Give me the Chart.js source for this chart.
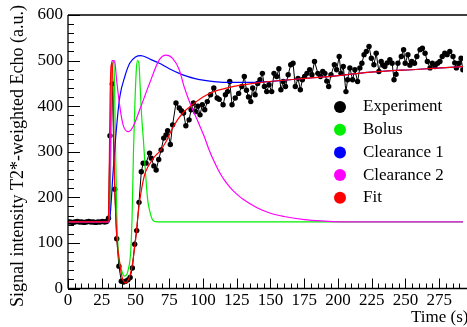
<!DOCTYPE html>
<html>
<head>
<meta charset="utf-8">
<script src="https://cdn.jsdelivr.net/npm/chart.js@4"></script>
<style>
  html, body { margin: 0; padding: 0; background: #fff; overflow: hidden; }
  #wrap { position: relative; width: 467px; height: 327px; }
</style>
</head>
<body>
<div id="wrap"><canvas id="myChart" width="467" height="327"></canvas></div>
<script>
// measured signal (time in s, signal in a.u.)
const expTime = [0, 1.7, 3.4, 5.1, 6.8, 8.5, 10.2, 11.9, 13.6, 15.3, 17, 18.7, 20.4, 22.1, 23.8, 25.5, 27.2, 28.6, 30.0,
  31.1, 32.8, 34.6, 36.1, 37.7, 39.5, 41.1, 42.7, 44.4, 46.0, 47.7, 49.4, 50.9, 52.6, 54.3, 55.7, 57.8, 60.4, 61.7, 63.6,
  65.3, 67.2, 69.0, 70.9, 72.6, 73.8, 75.8, 77.5, 80.0, 82.4, 84.0, 85.6, 87.3, 89.7, 91.2, 92.9, 94.6, 96.2, 97.8, 99.5,
  101.3, 103.2, 105.6, 108.0, 110.5, 112.0, 114.9, 116.6, 118.2, 119.8, 121.5, 123.9, 126.4, 128.8, 130.6, 132.2, 133.7,
  135.4, 136.8, 138.6, 140.5, 142.2, 144.0, 145.5, 147.2, 148.9, 150.9, 152.6, 154.6, 156.2, 157.7, 159.4, 161.1, 163.1,
  165.0, 166.7, 168.4, 170.4, 172.1, 173.6, 175.3, 177.0, 179.0, 180.7, 182.6, 185.1, 187.0, 188.7, 190.3, 191.7, 193.1,
  194.8, 197.3, 199.0, 200.9, 202.2, 203.9, 205.9, 207.1, 208.8, 210.8, 212.5, 214.5, 216.2, 217.7, 219.3, 221.0, 223.0,
  224.7, 226.6, 228.3, 230.3, 232.0, 233.5, 234.7, 236.5, 238.4, 240.1, 241.5, 243.0, 244.4, 246.9, 248.6, 249.8, 251.8,
  253.3, 254.7, 256.7, 258.4, 260.8, 262.5, 264.5, 266.2, 268.2, 269.9, 271.8, 273.8, 275.5, 277.2, 279.1, 280.8, 282.8,
  285.2, 286.5, 287.7, 289.7, 291.2, 292.5];
const expSignal = [146, 146, 145, 146, 147, 146, 146, 145, 146, 147, 146, 146, 145, 146, 146, 147, 146, 147, 154,
  335, 449, 218, 109, 49, 16, 14, 16, 19, 24, 45, 97, 127, 189, 256, 275, 275, 297, 286, 269,
  260, 283, 304, 330, 337, 346, 316, 359, 407, 396, 390, 385, 357, 370, 392, 407, 388, 400, 381, 403,
  392, 410, 425, 440, 418, 415, 403, 425, 432, 454, 403, 418, 428, 443, 465, 435, 420,
  410, 440, 425, 450, 458, 472, 443, 432, 447, 432, 472, 465, 482, 436, 454, 443, 469,
  491, 494, 443, 461, 436, 458, 465, 472, 480, 469, 498, 472, 465, 476, 472, 455, 443,
  469, 491, 480, 509, 472, 487, 432, 458, 484, 458, 480, 454, 484, 494, 513, 520, 531,
  505, 491, 516, 476, 498, 490, 487, 495, 502, 494, 458, 470, 494, 509, 524, 494, 513,
  490, 498, 494, 509, 524, 527, 516, 498, 484, 494, 487, 494, 498, 509, 516, 513, 520,
  509, 495, 484, 494, 505, 480];

// model components
const bolusTime = [0, 30, 31, 31.6, 32.3, 33, 34, 35, 36, 37.2, 39.7, 42, 44.5, 46.5, 47.5, 48.5, 49.5, 50.6, 51.5,
  52.5, 53.5, 54.5, 56, 57.5, 59, 60.4, 62.8, 66, 300];
const bolusSignal = [146, 146, 160, 260, 420, 490, 500, 350, 180, 84, 40, 27, 40, 84, 160, 300, 400, 480, 500,
  495, 440, 380, 320, 250, 195, 172, 150, 146, 146];

const clear1Time = [0, 30.5, 31.5, 33.5, 36, 38.4, 42.1, 45.7, 50, 54, 61.6, 67.7, 75, 82.4, 93.4, 108, 122.7, 137.4,
  150, 168, 200, 222, 260, 293, 300];
const clear1Signal = [146, 146, 170, 260, 355, 421, 465, 494, 508, 511, 502, 494, 482, 472, 461, 454, 452, 452,
  454, 459, 467, 474, 481, 487, 488];

const clear2Time = [0, 30.5, 31.3, 32, 32.8, 34, 34.8, 36, 38.4, 40.8, 44.5, 48.2, 53.1, 60.4, 67.7, 72.6, 77.5, 82.4,
  86, 91, 96, 100.7, 104.4, 108, 112, 116, 120, 125, 130, 140, 150, 160, 175, 190, 210, 300];
const clear2Signal = [146, 146, 300, 470, 500, 500, 495, 458, 399, 359, 344, 355, 392, 450, 502, 512, 505, 480,
  443, 402, 368, 335, 305, 280, 256, 237, 222, 207, 195, 177, 165, 158, 151, 148, 146, 146];

const fitTime = [0, 29.8, 30.5, 31.2, 32, 32.8, 33.5, 34.2, 35, 36, 37, 38.4, 39.5, 40.8, 42.8, 44.5, 46, 47.5, 48.5,
  50, 51.5, 53, 55, 56.7, 59.2, 62, 64, 67.7, 72.6, 78, 85, 93, 100, 108, 118, 128, 140, 168, 200, 222, 260, 293, 300];
const fitSignal = [146, 146, 250, 420, 490, 495, 420, 270, 190, 121, 85, 55, 32, 18, 12, 18, 30, 50, 70,
  105, 150, 190, 226, 249, 267, 280, 289, 300, 322, 355, 385, 405, 420, 432, 440, 446, 451, 459, 467, 474, 481, 487, 488];

const xTickLabels = [0, 25, 50, 75, 100, 125, 150, 175, 200, 225, 250, 275];
const yTickLabels = [0, 100, 200, 300, 400, 500, 600];

const FONT = '"Liberation Serif", "DejaVu Serif", serif';

function pairs(xs, ys) {
  return xs.map((x, i) => ({ x: x, y: ys[i] }));
}

function curve(label, color, xs, ys, order) {
  return {
    label: label,
    data: pairs(xs, ys),
    borderColor: color,
    backgroundColor: color,
    borderWidth: 1.2,
    pointRadius: 0,
    cubicInterpolationMode: 'monotone',
    order: order
  };
}

// axes, ticks, titles and legend drawn by hand, ticks pointing inward
const frame = {
  id: 'frame',
  afterDatasetsDraw(chart) {
    const { ctx, chartArea, scales } = chart;
    const xs = scales.x, ys = scales.y;
    const left = chartArea.left, bottom = chartArea.bottom, top = chartArea.top;
    ctx.save();
    ctx.strokeStyle = '#000';
    ctx.lineWidth = 1.3;
    ctx.beginPath();
    ctx.moveTo(left, top); ctx.lineTo(chart.width, top);
    ctx.moveTo(left, top); ctx.lineTo(left, bottom);
    ctx.moveTo(left, bottom); ctx.lineTo(chart.width, bottom);
    ctx.stroke();

    ctx.lineWidth = 1;
    ctx.beginPath();
    for (let v = 0; v <= xs.max; v += 5) {
      const px = Math.round(xs.getPixelForValue(v)) + 0.5;
      const len = v % 25 === 0 ? 10 : 5;
      ctx.moveTo(px, bottom); ctx.lineTo(px, bottom - len);
    }
    for (let v = 0; v <= 600; v += 20) {
      const py = Math.round(ys.getPixelForValue(v)) + 0.5;
      const len = v % 100 === 0 ? 12 : 6;
      ctx.moveTo(left, py); ctx.lineTo(left + len, py);
    }
    ctx.stroke();

    ctx.fillStyle = '#000';
    ctx.font = '17px ' + FONT;
    ctx.textAlign = 'center';
    ctx.textBaseline = 'middle';
    xTickLabels.forEach(v => ctx.fillText(String(v), xs.getPixelForValue(v), bottom + 12));
    ctx.textAlign = 'right';
    yTickLabels.forEach(v => ctx.fillText(String(v), left - 5, ys.getPixelForValue(v)));

    ctx.textAlign = 'left';
    ctx.fillText('Time (s)', 411, 318);

    ctx.save();
    ctx.translate(18, 156);
    ctx.rotate(-Math.PI / 2);
    ctx.textAlign = 'center';
    ctx.font = '18px ' + FONT;
    ctx.fillText('Signal intensity T2*-weighted Echo (a.u.)', 0, 0);
    ctx.restore();

    // legend
    ctx.font = '17px ' + FONT;
    ctx.textAlign = 'left';
    chart.data.datasets.forEach((ds, i) => {
      const y = 107 + i * 22.7;
      ctx.fillStyle = ds.borderColor;
      ctx.beginPath();
      ctx.arc(340, y, 6, 0, Math.PI * 2);
      ctx.fill();
      ctx.fillStyle = '#000';
      ctx.fillText(ds.label, 363, y);
    });
    ctx.restore();
  }
};

new Chart(document.getElementById('myChart').getContext('2d'), {
  type: 'line',
  data: {
    datasets: [
      {
        label: 'Experiment',
        data: pairs(expTime, expSignal),
        borderColor: '#000',
        backgroundColor: '#000',
        borderWidth: 1,
        pointRadius: 2.7,
        pointBorderWidth: 0,
        tension: 0,
        order: 5
      },
      curve('Bolus', '#00ee00', bolusTime, bolusSignal, 4),
      curve('Clearance 1', '#0000ff', clear1Time, clear1Signal, 3),
      curve('Clearance 2', '#ff00ff', clear2Time, clear2Signal, 2),
      curve('Fit', '#ff0000', fitTime, fitSignal, 1)
    ]
  },
  options: {
    responsive: false,
    animation: false,
    layout: { padding: { left: 68, right: 0, top: 15, bottom: 38.5 } },
    plugins: { legend: { display: false }, tooltip: { enabled: false } },
    scales: {
      x: { type: 'linear', min: 0, max: 292.6, display: false },
      y: { type: 'linear', min: 0, max: 600, display: false }
    }
  },
  plugins: [frame]
});
</script>
</body>
</html>
